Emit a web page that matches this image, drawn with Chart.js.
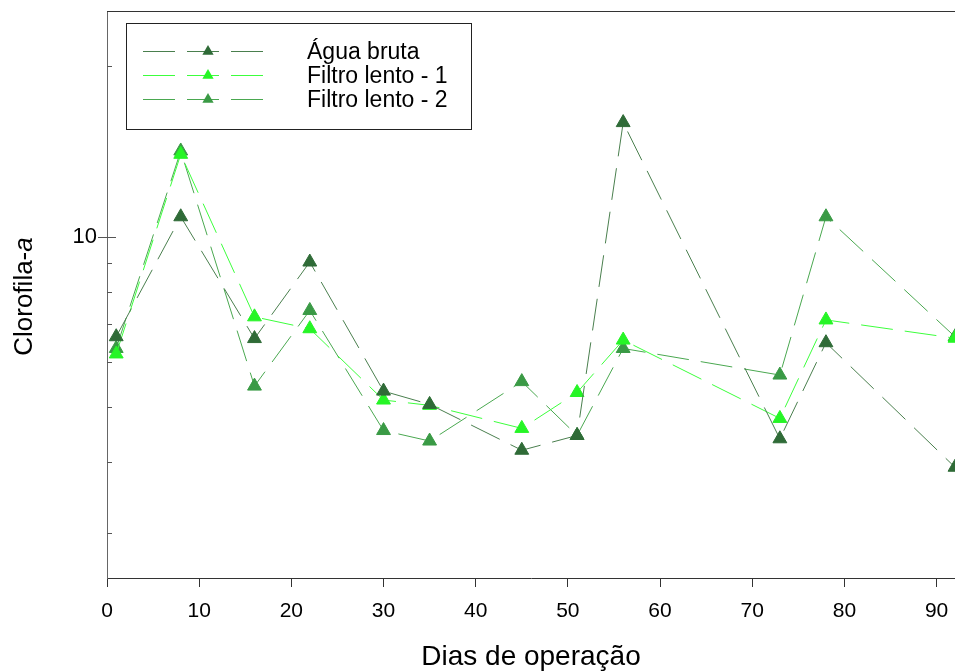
<!DOCTYPE html>
<html>
<head>
<meta charset="utf-8">
<script src="https://cdn.jsdelivr.net/npm/chart.js@4.4.1/dist/chart.umd.min.js"></script>
<style>
  html, body { margin: 0; padding: 0; background: #fff; }
</style>
</head>
<body>
<canvas id="chart" width="955" height="671"></canvas>
<script>
const dias = [1, 8, 16, 22, 30, 35, 45, 51, 56, 73, 78, 92];
const aguaBruta = [6.66, 10.84, 6.61, 9.02, 5.34, 5.06, 4.20, 4.46, 15.89, 4.40, 6.50, 3.92];
const filtroLento1 = [6.21, 13.97, 7.22, 6.88, 5.15, 5.04, 4.59, 5.31, 6.57, 4.78, 7.13, 6.62];
const filtroLento2 = [6.35, 14.16, 5.45, 7.41, 4.55, 4.36, 5.55, 4.46, 6.35, 5.70, 10.84, 6.66];

const yMajor = [10];
const yMinor = [3, 4, 5, 6, 7, 8, 9, 20];

const FONT = "'Liberation Sans', Arial, sans-serif";

function serie(label, values, line, mark) {
    return {
        label: label,
        data: dias.map((d, i) => ({ x: d, y: values[i] })),
        borderColor: line,
        borderWidth: 1,
        borderDash: [32, 12],
        pointStyle: 'triangle',
        pointRadius: 8,
        pointBackgroundColor: mark,
        pointBorderColor: mark,
        pointBorderWidth: 1,
        fill: false,
        tension: 0,
        clip: false
    };
}

// ticks of the log axis + top frame line
const frame = {
    id: 'frame',
    afterDraw(chart) {
        const { ctx, chartArea: a, scales: { y } } = chart;
        ctx.save();
        ctx.lineWidth = 1;
        ctx.strokeStyle = '#333';
        ctx.beginPath();
        ctx.moveTo(a.left, a.top + 0.5);
        ctx.lineTo(a.right, a.top + 0.5);
        ctx.stroke();

        ctx.strokeStyle = '#555';
        ctx.beginPath();
        yMinor.forEach(v => {
            const py = Math.round(y.getPixelForValue(v)) + 0.5;
            ctx.moveTo(a.left, py);
            ctx.lineTo(a.left + 5, py);
        });
        yMajor.forEach(v => {
            const py = Math.round(y.getPixelForValue(v)) + 0.5;
            ctx.moveTo(a.left - 9, py);
            ctx.lineTo(a.left + 9, py);
        });
        ctx.stroke();
        ctx.restore();
    }
};

// y title, with the italic "a"
const yTitle = {
    id: 'yTitle',
    afterDraw(chart) {
        const { ctx, chartArea: a } = chart;
        const normal = '26px ' + FONT;
        const italic = 'italic 26px ' + FONT;
        ctx.save();
        ctx.translate(32, (a.top + a.bottom) / 2 + 2);
        ctx.rotate(-Math.PI / 2);
        ctx.fillStyle = '#000';
        ctx.textAlign = 'left';
        ctx.textBaseline = 'alphabetic';
        ctx.font = normal;
        const w1 = ctx.measureText('Clorofila-').width;
        ctx.font = italic;
        const w2 = ctx.measureText('a').width;
        const x = -(w1 + w2) / 2;
        ctx.font = normal;
        ctx.fillText('Clorofila-', x, 0);
        ctx.font = italic;
        ctx.fillText('a', x + w1, 0);
        ctx.restore();
    }
};

const legendBox = {
    id: 'legendBox',
    afterDatasetsDraw(chart) {
        const { ctx, chartArea: a } = chart;
        const x0 = a.left + 19, y0 = a.top + 12, w = 345, h = 106;
        ctx.save();
        ctx.fillStyle = '#fff';
        ctx.fillRect(x0, y0, w, h);
        ctx.strokeStyle = '#222';
        ctx.lineWidth = 1;
        ctx.strokeRect(x0 + 0.5, y0 + 0.5, w, h);

        chart.data.datasets.forEach((ds, i) => {
            const ry = y0 + 28.5 + i * 24;
            ctx.setLineDash(ds.borderDash);
            ctx.strokeStyle = ds.borderColor;
            ctx.beginPath();
            ctx.moveTo(x0 + 17, ry);
            ctx.lineTo(x0 + 137, ry);
            ctx.stroke();
            ctx.setLineDash([]);

            const r = 6.5, cx = x0 + 82;
            ctx.fillStyle = ds.pointBackgroundColor;
            ctx.beginPath();
            ctx.moveTo(cx, ry - r);
            ctx.lineTo(cx + 0.866 * r, ry + 0.5 * r);
            ctx.lineTo(cx - 0.866 * r, ry + 0.5 * r);
            ctx.closePath();
            ctx.fill();

            ctx.fillStyle = '#000';
            ctx.font = '23px ' + FONT;
            ctx.textAlign = 'left';
            ctx.textBaseline = 'middle';
            ctx.fillText(ds.label, x0 + 181, ry + 1);
        });
        ctx.restore();
    }
};

new Chart(document.getElementById('chart'), {
    type: 'line',
    data: {
        datasets: [
            serie('Água bruta', aguaBruta, '#4a7f4e', '#2f6b37'),
            serie('Filtro lento - 1', filtroLento1, '#3cff3c', '#26f526'),
            serie('Filtro lento - 2', filtroLento2, '#4aa850', '#3a9a45')
        ]
    },
    options: {
        responsive: false,
        animation: false,
        devicePixelRatio: 1,
        layout: { autoPadding: false, padding: { top: 11, left: 0, right: 0, bottom: 0 } },
        plugins: {
            legend: { display: false },
            tooltip: { enabled: false }
        },
        scales: {
            x: {
                type: 'linear',
                min: 0,
                max: 92,
                ticks: {
                    stepSize: 10,
                    includeBounds: false,
                    maxRotation: 0,
                    padding: 12,
                    color: '#000',
                    font: { family: FONT, size: 21 }
                },
                grid: { drawOnChartArea: false, drawTicks: true, tickLength: 9, color: '#333' },
                border: { color: '#333', width: 1 },
                title: {
                    display: true,
                    text: 'Dias de operação',
                    color: '#000',
                    font: { family: FONT, size: 28, lineHeight: 1 },
                    padding: { top: 0, bottom: 0 }
                },
                afterFit: s => {
                    s.height = 93;
                    s.paddingLeft = 0;
                    s.paddingRight = 0;
                }
            },
            y: {
                type: 'logarithmic',
                min: 2.5,
                max: 25,
                afterBuildTicks: s => { s.ticks = yMajor.map(v => ({ value: v })); },
                ticks: {
                    padding: 10,
                    color: '#000',
                    font: { family: FONT, size: 22 },
                    callback: v => String(v)
                },
                grid: { display: false, drawTicks: false },
                border: { color: '#666', width: 1 },
                afterFit: s => {
                    s.width = 107;
                    s.paddingTop = 0;
                    s.paddingBottom = 0;
                }
            }
        }
    },
    plugins: [frame, yTitle, legendBox]
});
</script>
</body>
</html>
